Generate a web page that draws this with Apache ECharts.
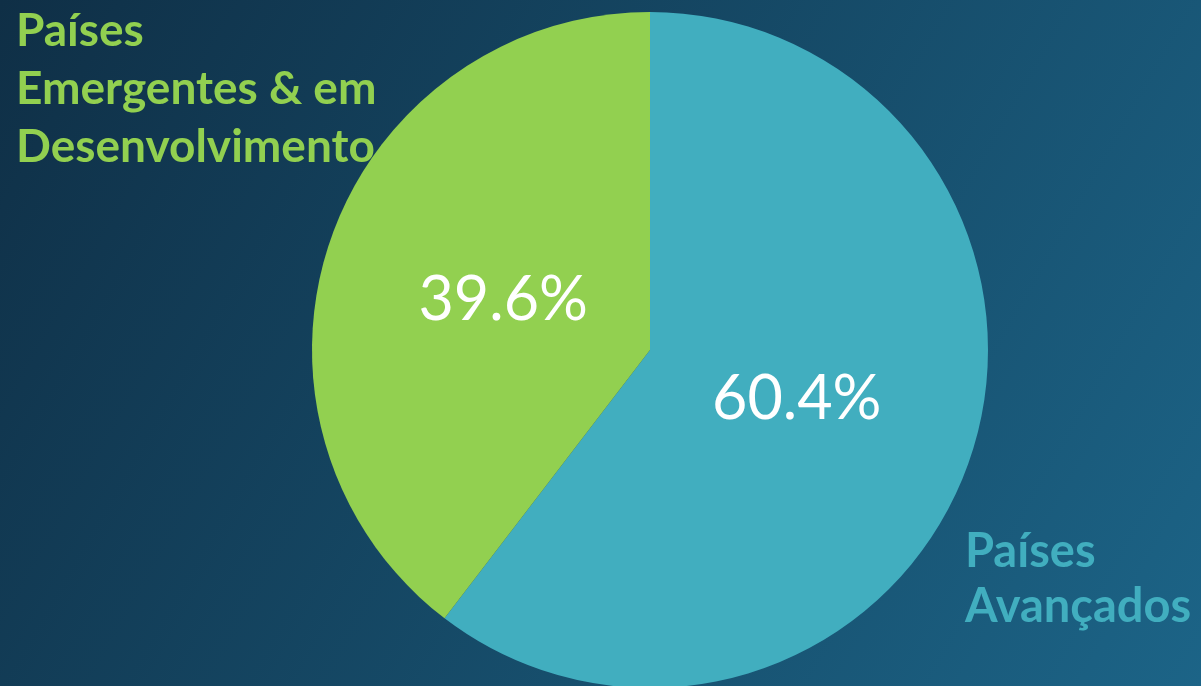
<!DOCTYPE html>
<html><head><meta charset="utf-8">
<script src="https://cdn.jsdelivr.net/npm/echarts@6/dist/echarts.min.js"></script>
<style>html,body{margin:0;padding:0;}#c{width:1201px;height:686px;}</style>
</head><body><div id="c"></div>
<script>
const categories = ['Países Avançados', 'Países Emergentes & em Desenvolvimento'];
const labelLines = [['Países', 'Avançados'], ['Países', 'Emergentes & em', 'Desenvolvimento']];
const values = [60.4, 39.6];
const colors = ['#41aebf', '#92d050'];

const chart = echarts.init(document.getElementById('c'));
const pieData = categories.map((n, i) => ({name: n, value: values[i], itemStyle: {color: colors[i]}}));
chart.setOption({
  backgroundColor: {
    type: 'linear', x: 0, y: 0, x2: 1, y2: 1,
    colorStops: [{offset: 0, color: '#0f2f46'}, {offset: 1, color: '#1c6487'}]
  },
  series: [{
    type: 'pie',
    center: [650, 350],
    radius: [0, 338],
    startAngle: 90,
    clockwise: true,
    silent: true,
    data: pieData,
    label: {show: false},
    labelLine: {show: false}
  }, {
    type: 'pie',
    center: [650, 350],
    radius: [0, 304],
    startAngle: 90,
    clockwise: true,
    silent: true,
    z: 3,
    data: pieData.map(d => ({name: d.name, value: d.value, itemStyle: {color: 'rgba(0,0,0,0)'}})),
    label: {
      position: 'inside',
      formatter: p => p.value.toFixed(1) + '%',
      color: '#ffffff',
      fontFamily: 'Lato',
      fontSize: 61,
      fontWeight: 'normal'
    },
    labelLine: {show: false}
  }],
  graphic: [
    {type: 'text', left: 16, top: 2, z: 100,
     style: {text: labelLines[1].join('\n'), fill: colors[1], font: 'bold 46px Lato', lineHeight: 58}},
    {type: 'text', left: 965, top: 524, z: 100,
     style: {text: labelLines[0].join('\n'), fill: colors[0], font: 'bold 47px Lato', lineHeight: 55}}
  ]
});
</script></body></html>
